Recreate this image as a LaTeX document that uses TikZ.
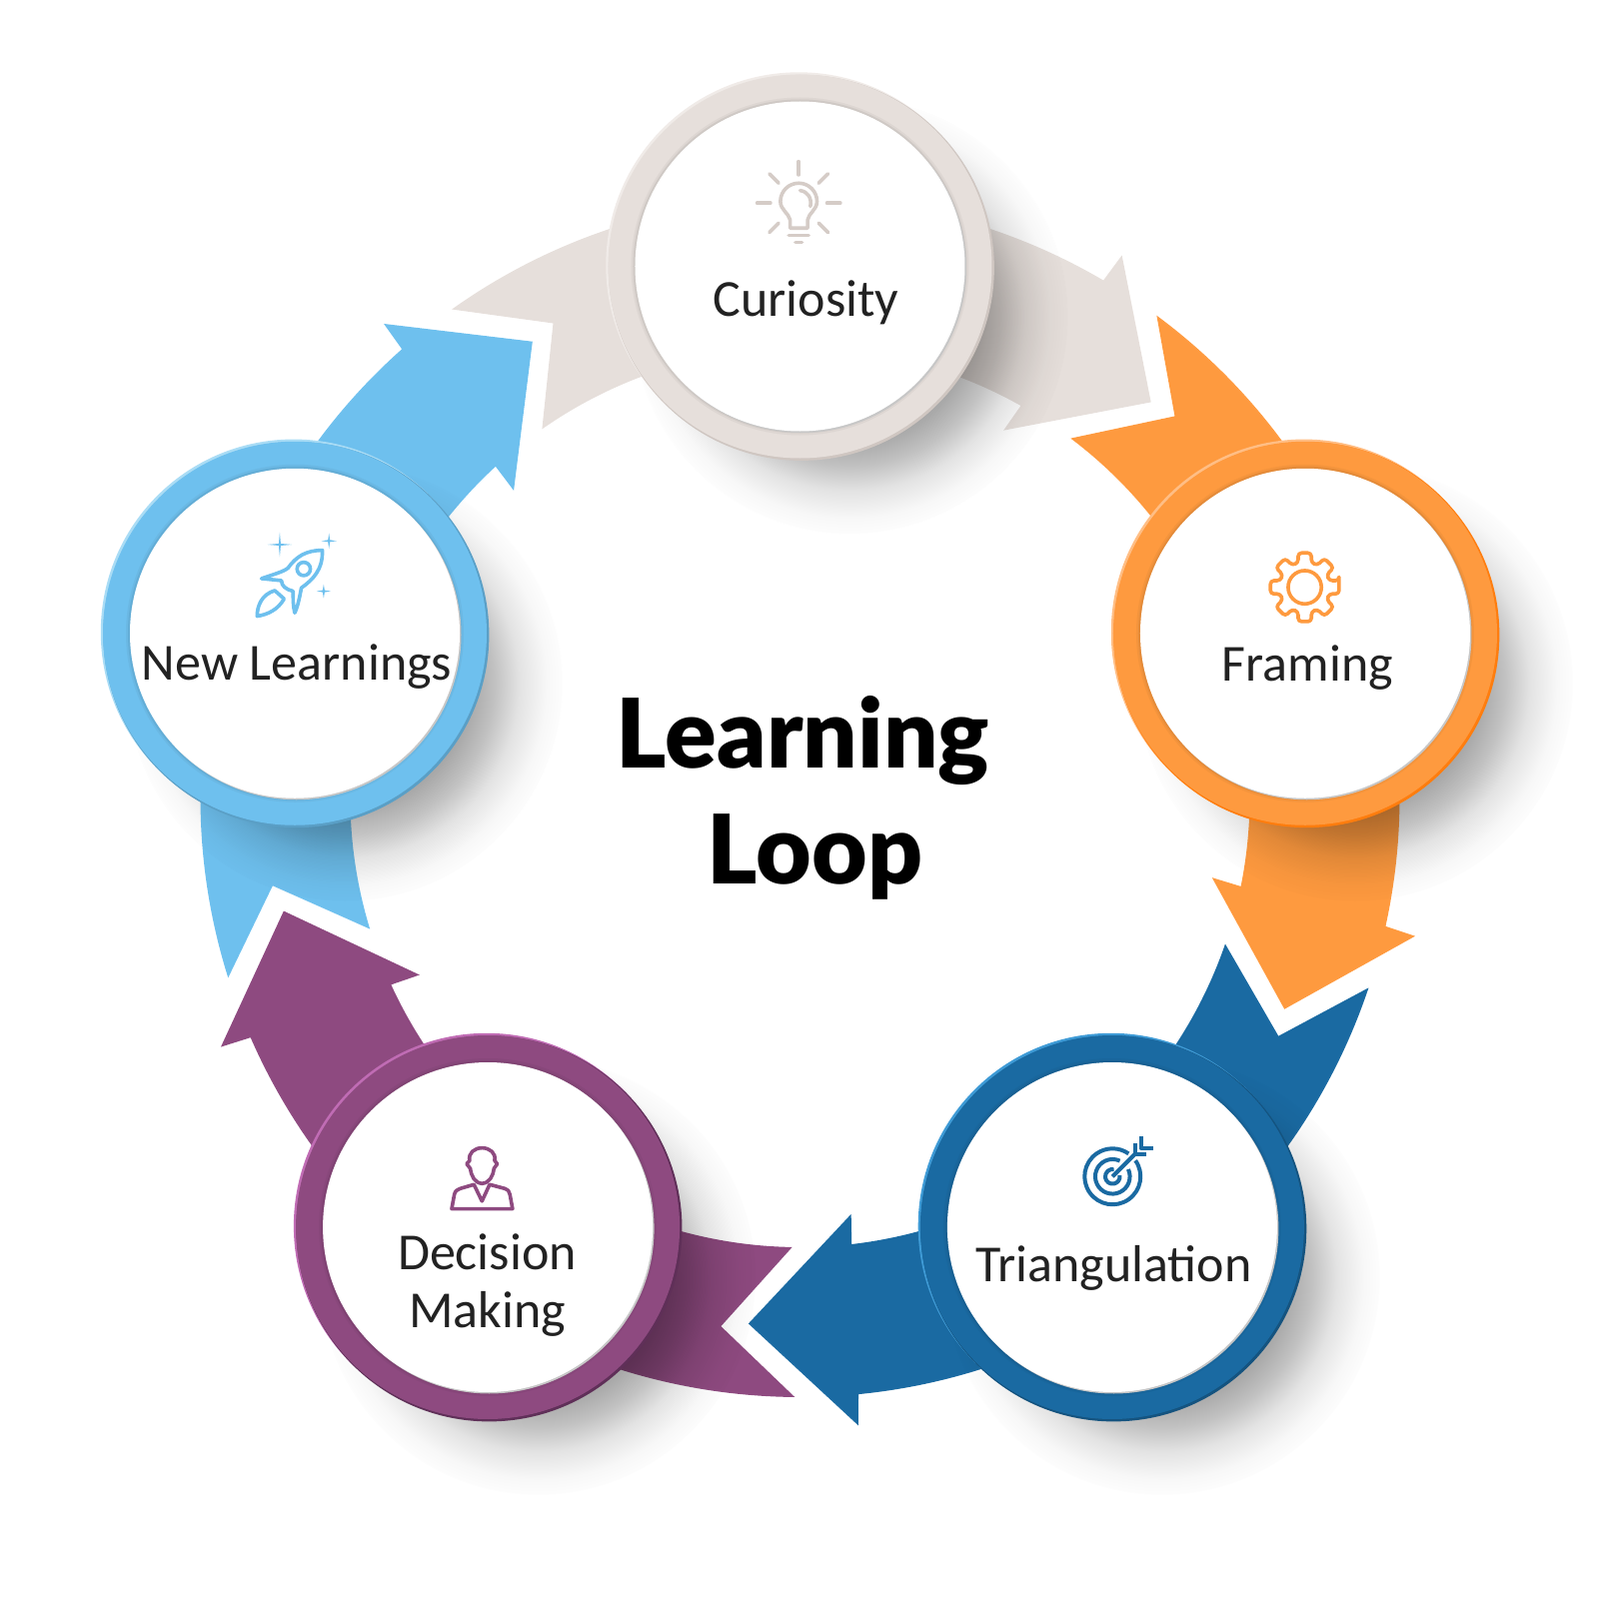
\documentclass[tikz,border=0pt]{standalone}
\usepackage{fontspec}
\usetikzlibrary{calc,fadings}
\setmainfont{Carlito}
\newfontfamily\headfont{Lato Black}
\definecolor{loopgrey}{HTML}{E6DFDB}
\definecolor{looporange}{HTML}{FE9A3F}
\definecolor{loopblue}{HTML}{1A6AA2}
\definecolor{looppurple}{HTML}{8E4A80}
\definecolor{loopsky}{HTML}{6EC0EE}
\definecolor{loopink}{HTML}{222222}
\definecolor{icongrey}{HTML}{D5CCC7}
\definecolor{lightgrey}{HTML}{F0EBE8}
\definecolor{lightorange}{HTML}{FFBE85}
\definecolor{lightblue}{HTML}{3F9BD6}
\definecolor{lightpurple}{HTML}{C06CB4}
\definecolor{lightsky}{HTML}{A9DCF5}
\definecolor{darkgrey}{HTML}{CFC6C1}
\definecolor{darkorange}{HTML}{FF7D0E}
\definecolor{darkblue}{HTML}{14537F}
\definecolor{darkpurple}{HTML}{5F2F58}
\definecolor{darksky}{HTML}{5A9FC6}
\pgfdeclareradialshading{softringshade}{\pgfpointorigin}{%
  color(0bp)=(pgftransparent!66); color(28bp)=(pgftransparent!66); color(33.5bp)=(pgftransparent!76);
  color(39bp)=(pgftransparent!89); color(45bp)=(pgftransparent!97); color(50bp)=(pgftransparent!100)}
\pgfdeclarefading{softring}{\pgfuseshading{softringshade}}
\tikzset{
  looplabel/.style={anchor=base,align=center,text=loopink,font=\fontsize{14.8}{16.6}\selectfont},
  loophead/.style={anchor=base,text=black,font=\headfont\fontsize{27.3}{33}\selectfont},
  iconline/.style={line width=0.36mm,line cap=round,line join=round,x=0.0333mm,y=-0.0333mm},
}
\begin{document}
\begin{tikzpicture}[x=0.1mm,y=0.1mm]
\useasboundingbox (-800.5,-802) rectangle (799.5,798);
% arrows
\foreach \rot/\col in {0/loopgrey,72/looporange,144/loopblue,216/looppurple,288/loopsky}
  \fill[\col,rotate=-\rot] (125.5:600) arc[start angle=125.5,end angle=59.6,radius=600]
    -- (59.3:631) -- (48.4:529) -- (61:420) -- (60.6:450)
    arc[start angle=60.6,end angle=125,radius=450] -- (117.5:535) -- cycle;
% soft shadows
\foreach \ang in {90,18,-54,-126,162}
  \fill[black,path fading=softring,fit fading=false,fading transform={shift={($(\ang:531.5)+(50,-50)$)},scale=1.27}]
    ($(\ang:531.5)+(50,-50)$) circle (218);
% rings
\foreach \name/\ang/\col/\lit/\drk in {curiosity/90/loopgrey/lightgrey/darkgrey,framing/18/looporange/lightorange/darkorange,triangle/-54/loopblue/lightblue/darkblue,decision/-126/looppurple/lightpurple/darkpurple,newlearn/162/loopsky/lightsky/darksky}{
  \coordinate (\name) at (\ang:531.5);
  \fill[\lit] ($(\name)+(-1.2,1.2)$) circle (193);
  \fill[\drk] ($(\name)+(1.4,-1.4)$) circle (193);
  \fill[\col] (\name) circle (192);
  \fill[\col!96!black] (\name) circle (169);
  \fill[\col!90!black] (\name) circle (167);
  \fill[black!22] ($(\name)+(1.5,-1.5)$) circle (165);
  \fill[white] (\name) circle (165);
}
% labels
\node[looplabel] (curiositytxt) at (6,481) {Curiosity};
\node[looplabel] (framingtxt) at (508,117) {Framing};
\node[looplabel] (triangletxt) at (314,-484) {Triangulation};
\node[looplabel,anchor=center] (decisiontxt) at (-313,-488) {Decision\\Making};
\node[looplabel] (newlearntxt) at (-503.5,118) {New Learnings};
\node[loophead] (learningtxt) at (3,30) {Learning};
\node[loophead] (looptxt) at (15,-86) {Loop};
% bulb
\begin{scope}[shift={(-100.5,668)},iconline,draw=icongrey]
\foreach \a in {0,45,135,180,-135,-90,-45}
  \draw (298,220)+(\a:85) -- +(\a:125);
\draw (272,295) -- (272,270) .. controls (268,250) and (243,240) .. (243,215)
  arc[start angle=180,end angle=360,radius=55]
  .. controls (353,240) and (328,250) .. (325,270) -- (325,295) -- cycle;
\draw (302,182) .. controls (325,185) and (338,205) .. (333,230);
\draw (268,317) -- (328,317);
\draw (288,338) -- (308,338);
\end{scope}
% gear
\begin{scope}[shift={(449.5,257)},iconline,draw=looporange]
\draw (167,140) circle (50);
\draw[rounded corners=1pt] ($(167,140)+(-11:105)$)
  \foreach \a in {0,45,...,315} { -- ($(167,140)+(\a-11:105)$) -- ($(167,140)+(\a+11:105)$) -- ($(167,140)+(\a+15:76)$) -- ($(167,140)+(\a+30:76)$) } -- cycle;
\end{scope}
% target
\begin{scope}[shift={(259.5,-322)},iconline,line width=0.4mm,line cap=butt,draw=loopblue]
\draw (160,172)+(-35:84) arc[start angle=-35,end angle=305,radius=84];
\draw (160,172)+(-25:52) arc[start angle=-25,end angle=295,radius=52];
\draw (160,172)+(-10:22) arc[start angle=-10,end angle=280,radius=22];
\draw (160,172) -- (232,100);
\draw (228,72) -- (228,104) -- (262,104);
\draw (245,52) -- (245,87) -- (282,87);
\end{scope}
% person
\begin{scope}[shift={(-370.5,-334)},iconline,draw=looppurple]
\draw (157,157) .. controls (135,155) and (125,135) .. (122,112) -- (111,98) -- (120,88)
  .. controls (115,65) and (135,50) .. (157,50) .. controls (180,50) and (200,65) .. (195,88)
  -- (203,98) -- (193,112) .. controls (190,135) and (180,155) .. (157,157) -- cycle;
\draw (66,233) -- (74,190) .. controls (76,178) and (85,175) .. (92,172) -- (133,160)
  -- (157,210) -- (180,160) -- (225,172) .. controls (235,176) and (240,180) .. (241,190)
  -- (249,233) -- cycle;
\end{scope}
% rocket
\begin{scope}[shift={(-570.5,288)},iconline,draw=loopsky]
\draw (278,122) .. controls (230,122) and (200,140) .. (175,175) .. controls (165,185) and (130,195) .. (95,207)
  -- (155,213) .. controls (155,230) and (170,240) .. (190,245) .. controls (190,270) and (190,290) .. (195,310)
  .. controls (205,290) and (210,260) .. (215,235) .. controls (250,210) and (280,180) .. (278,122) -- cycle;
\draw (222,178) circle (20);
\draw (82,320) .. controls (82,290) and (95,255) .. (135,243) -- (163,268)
  .. controls (145,300) and (115,315) .. (82,320) -- cycle;
\foreach \sx/\sy/\sa in {150/105/37,298/94/23,282/245/21}
  \fill[loopsky] (\sx+\sa,\sy) -- (\sx+3,\sy+3) -- (\sx,\sy+\sa) -- (\sx-3,\sy+3)
    -- (\sx-\sa,\sy) -- (\sx-3,\sy-3) -- (\sx,\sy-\sa) -- (\sx+3,\sy-3) -- cycle;
\end{scope}
\end{tikzpicture}
\end{document}
